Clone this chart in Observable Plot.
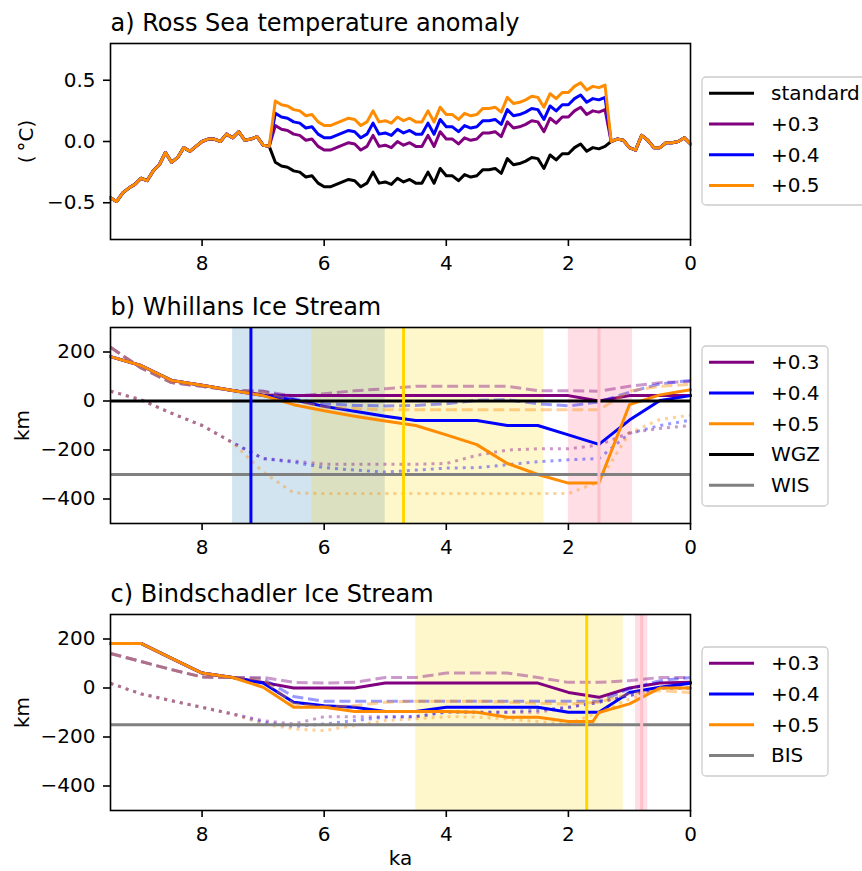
<!DOCTYPE html>
<html><head><meta charset="utf-8">
<script src="https://cdn.jsdelivr.net/npm/d3@7"></script>
<script src="https://cdn.jsdelivr.net/npm/@observablehq/plot@0.6"></script>
<style>
html,body{margin:0;padding:0;background:#fff;overflow:hidden;}
#fig{position:relative;width:862px;height:871px;overflow:hidden;background:#fff;font-family:"DejaVu Sans",sans-serif;}
</style></head><body><div id="fig"></div>
<script>
// ---------------- DATA ----------------
// a) Ross Sea temperature anomaly (°C), 0.1 ka steps
const kaTemp = [9.5,9.4,9.3,9.2,9.1,9.0,8.9,8.8,8.7,8.6,8.5,8.4,8.3,8.2,8.1,8.0,7.9,7.8,7.7,7.6,
  7.5,7.4,7.3,7.2,7.1,7.0,6.9,6.8,6.7,6.6,6.5,6.4,6.3,6.2,6.1,6.0,5.9,5.8,5.7,5.6,
  5.5,5.4,5.3,5.2,5.1,5.0,4.9,4.8,4.7,4.6,4.5,4.4,4.3,4.2,4.1,4.0,3.9,3.8,3.7,3.6,
  3.5,3.4,3.3,3.2,3.1,3.0,2.9,2.8,2.7,2.6,2.5,2.4,2.3,2.2,2.1,2.0,1.9,1.8,1.7,1.6,
  1.5,1.4,1.3,1.2,1.1,1.0,0.9,0.8,0.7,0.6,0.5,0.4,0.3,0.2,0.1,0.0];
const standardAnomaly = [-0.46,-0.49,-0.42,-0.38,-0.35,-0.30,-0.32,-0.24,-0.19,-0.09,
  -0.17,-0.13,-0.05,-0.08,-0.04,0.00,0.02,0.02,0.00,0.06,
  0.03,0.08,0.01,0.02,0.04,-0.03,-0.04,-0.17,-0.20,-0.21,
  -0.24,-0.25,-0.29,-0.28,-0.34,-0.37,-0.37,-0.35,-0.33,-0.31,
  -0.32,-0.37,-0.34,-0.25,-0.34,-0.33,-0.35,-0.30,-0.33,-0.31,
  -0.34,-0.34,-0.25,-0.34,-0.22,-0.28,-0.28,-0.32,-0.27,-0.29,
  -0.28,-0.23,-0.23,-0.22,-0.26,-0.14,-0.19,-0.18,-0.16,-0.13,
  -0.14,-0.22,-0.11,-0.15,-0.10,-0.10,-0.05,-0.02,-0.08,-0.05,
  -0.06,-0.04,0.00,0.02,0.01,-0.05,-0.07,0.05,0.01,-0.05,
  -0.05,-0.01,-0.01,0.00,0.03,-0.02];
// warming window values (6.8 ka .. 1.4 ka); elsewhere runs equal the standard
const warmStartKa = 6.8;
const warm03 = [0.13,0.10,0.09,0.06,0.05,0.01,0.02,-0.04,-0.07,-0.07,-0.05,-0.03,-0.01,-0.02,-0.07,-0.04,0.05,-0.04,-0.03,-0.05,
  0.00,-0.03,-0.01,-0.04,-0.04,0.05,-0.04,0.08,0.02,0.02,-0.02,0.03,0.01,0.02,0.07,0.07,0.08,0.04,0.16,0.11,
  0.12,0.14,0.17,0.16,0.08,0.19,0.15,0.20,0.20,0.25,0.28,0.22,0.25,0.24,0.26];
const warm04 = [0.23,0.20,0.19,0.16,0.15,0.11,0.12,0.06,0.03,0.03,0.05,0.07,0.09,0.08,0.03,0.06,0.15,0.06,0.07,0.05,
  0.10,0.07,0.09,0.06,0.06,0.15,0.06,0.18,0.12,0.12,0.08,0.13,0.11,0.12,0.17,0.17,0.18,0.14,0.26,0.21,
  0.22,0.24,0.27,0.26,0.18,0.29,0.25,0.30,0.30,0.35,0.38,0.32,0.35,0.34,0.36];
const warm05 = [0.33,0.30,0.29,0.26,0.25,0.21,0.22,0.16,0.13,0.13,0.15,0.17,0.19,0.18,0.13,0.16,0.25,0.16,0.17,0.15,
  0.20,0.17,0.19,0.16,0.16,0.25,0.16,0.28,0.22,0.22,0.18,0.23,0.21,0.22,0.27,0.27,0.28,0.24,0.36,0.31,
  0.32,0.34,0.37,0.36,0.28,0.39,0.35,0.40,0.40,0.45,0.48,0.42,0.45,0.44,0.46];

// b) Whillans Ice Stream grounding line position (km), 0.5 ka steps
const kaGL = [9.5,9.0,8.5,8.0,7.5,7.0,6.5,6.0,5.5,5.0,4.5,4.0,3.5,3.0,2.5,2.0,1.5,1.0,0.5,0.0];
const wisSolid03 = [181,145,84,64,43,25,22,22,22,22,22,22,22,22,22,22,0,22,22,22];
const wisSolid04 = [181,145,84,64,43,22,5,-22,-42,-62,-80,-80,-80,-100,-100,-138,-177,-78,2,22];
const wisSolid05 = [181,145,84,64,43,22,-15,-40,-62,-82,-100,-138,-178,-255,-300,-335,-335,-15,25,46];
const wisDash03 = [219,135,75,60,43,40,20,30,42,50,60,60,60,60,42,42,40,60,75,80];
const wisDash04 = [219,135,75,60,43,40,8,-11,-18,-20,-18,-11,3,5,-11,-20,-4,36,70,84];
const wisDash05 = [219,135,75,60,43,38,0,-24,-31,-36,-36,-36,-36,-36,-36,-36,-36,40,60,68];
const wisDot03 = [40,5,-50,-100,-170,-235,-245,-258,-258,-258,-258,-255,-222,-200,-195,-195,-180,-130,-112,-100];
const wisDot04 = [40,5,-50,-100,-170,-235,-250,-272,-282,-290,-282,-274,-272,-260,-248,-240,-235,-132,-100,-78];
const wisDot05 = [40,5,-50,-100,-170,-290,-375,-378,-378,-378,-378,-378,-378,-378,-378,-378,-330,-130,-75,-58];
const wisSpanKey = ["blue","gold","pink"];
const wisSpanFrom = [7.5,6.2,2.0];
const wisSpanTo = [5.0,2.4,0.95];
const wisLineKey = ["blue","gold","pink"];
const wisLineKa = [7.2,4.7,1.5];
const wgzKm = 0;
const wisKm = -300;

// c) Bindschadler Ice Stream (km)
const bisSolid03 = [182,182,121,61,43,23,0,0,0,20,20,20,20,20,20,-18,-38,0,20,23];
const bisSolid04 = [182,182,121,61,43,20,-58,-72,-79,-96,-96,-79,-79,-79,-79,-99,-99,-18,3,19];
const kaBis05 = [9.5,9.0,8.5,8.0,7.5,7.0,6.5,6.0,5.5,5.0,4.5,4.0,3.5,3.0,2.5,2.0,1.6,1.5,1.0,0.5,0.0];
const bisSolid05 = [182,182,121,61,43,3,-79,-79,-96,-96,-96,-96,-99,-119,-119,-137,-137,-100,-65,0,0];
const bisDash03 = [141,108,75,45,43,43,23,20,23,43,43,61,61,61,43,23,23,30,43,43];
const bisDash04 = [141,108,75,45,43,37,-35,-54,-54,-54,-54,-54,-54,-54,-54,-54,-54,-4,30,43];
const bisDash05 = [141,108,75,45,43,35,-65,-78,-72,-58,-54,-54,-54,-58,-62,-65,-58,-24,-11,-18];
const bisDot03 = [19,-24,-52,-79,-106,-133,-147,-117,-117,-117,-117,-96,-99,-99,-99,-79,-58,-31,0,0];
const bisDot04 = [19,-24,-52,-79,-106,-140,-157,-147,-133,-119,-117,-99,-99,-99,-90,-79,-58,-31,0,0];
const bisDot05 = [19,-24,-52,-79,-106,-147,-167,-174,-153,-133,-126,-117,-119,-126,-137,-147,-99,-45,0,0];
const bisSpanKey = ["gold","pink"];
const bisSpanFrom = [4.5,0.9];
const bisSpanTo = [1.1,0.7];
const bisLineKey = ["gold","pink"];
const bisLineKa = [1.7,0.8];
const bisKm = -150;

const xTicks = [8,6,4,2,0];
const tempTicks = [-0.5,0,0.5];
const kmTicks = [-400,-200,0,200];

// ---------------- STYLE ----------------
const C = {standard:"#000000", p03:"#800080", p04:"#0000ff", p05:"#ff8c00", wgz:"#000000", gray:"#808080"};
const spanFill = {blue:"#1f77b4", gold:"#ffd700", pink:"#ffc0cb"};
const spanOpacity = {blue:0.2, gold:0.2, pink:0.5};
const vlineColor = {blue:"#0000ff", gold:"#ffd700", pink:"#ffc0cb"};
const LW = 3, DASH = "11,4.8", DOT = "3,5", ALPHA = 0.4;
const FONT = '"DejaVu Sans", sans-serif';

const fig = document.getElementById("fig");
const rowsOf = (ka, vals) => ka.map((k, i) => ({ka: k, v: vals[i]}));
const i0 = kaTemp.indexOf(warmStartKa);
const withWarm = (w) => standardAnomaly.map((v, i) => (i >= i0 && i < i0 + w.length) ? w[i - i0] : v);

const axes = (yTicks, fmt) => [
  Plot.axisX({ticks: xTicks, tickSize: 7, tickPadding: 9, strokeWidth: 1.6, fontSize: 20, label: null, tickFormat: d3.format("d")}),
  Plot.axisY({ticks: yTicks, tickSize: 7, tickPadding: 8, strokeWidth: 1.6, fontSize: 20, label: null, tickFormat: fmt})
];
const title = (t) => Plot.text([t], {text: d => d, frameAnchor: "top-left", textAnchor: "start", lineAnchor: "middle", dy: -19.7, fontSize: 24});
const yLabel = (t, dx) => Plot.text([t], {text: d => d, frameAnchor: "left", rotate: -90, textAnchor: "middle", lineAnchor: "middle", dx, fontSize: 20});
const solid = (rows, c) => Plot.line(rows, {x: "ka", y: "v", stroke: c, strokeWidth: LW});
const styled = (rows, c, dash) => Plot.line(rows, {x: "ka", y: "v", stroke: c, strokeWidth: LW, strokeOpacity: ALPHA, strokeDasharray: dash, strokeLinecap: "butt"});

function panel(top, height, mt, mb, yDomain, marks) {
  const svg = Plot.plot({
    width: 862, height, marginLeft: 110, marginRight: 172, marginTop: mt, marginBottom: mb,
    style: {fontFamily: FONT, fontSize: "20px", background: "white", color: "black", overflow: "visible"},
    x: {domain: [9.5, 0]},
    y: {domain: yDomain},
    marks
  });
  svg.style.position = "absolute"; svg.style.left = "0px"; svg.style.top = top + "px";
  fig.appendChild(svg);
}

function legend(left, top, w, h, entries) {
  const svg = d3.create("svg").attr("width", w + 4).attr("height", h + 4)
    .style("position", "absolute").style("left", (left - 2) + "px").style("top", (top - 2) + "px");
  svg.append("rect").attr("x", 2).attr("y", 2).attr("width", w).attr("height", h).attr("rx", 4)
    .attr("fill", "white").attr("fill-opacity", 0.8).attr("stroke", "#cccccc").attr("stroke-width", 1.3);
  entries.forEach((e, i) => {
    const y = 2 + 16.2 + i * 30.75;
    svg.append("line").attr("x1", 9).attr("x2", 54).attr("y1", y).attr("y2", y)
      .attr("stroke", e.color).attr("stroke-width", LW);
    svg.append("text").attr("x", 71).attr("y", y).attr("dy", "0.35em")
      .attr("font-family", FONT).attr("font-size", 20).attr("fill", "black").text(e.label);
  });
  fig.appendChild(svg.node());
}

// ---------------- PANEL A ----------------
const fmt1 = d3.format(".1f");
panel(0, 290, 43, 51, [-0.8, 0.8], [
  solid(rowsOf(kaTemp, standardAnomaly), C.standard),
  solid(rowsOf(kaTemp, withWarm(warm03)), C.p03),
  solid(rowsOf(kaTemp, withWarm(warm04)), C.p04),
  solid(rowsOf(kaTemp, withWarm(warm05)), C.p05),
  ...axes(tempTicks, fmt1),
  Plot.frame({stroke: "black", strokeWidth: 1.6}),
  title("a) Ross Sea temperature anomaly"),
  yLabel("(\u2009\u00B0C)", -84)
]);
legend(702, 77, 180, 128, [
  {label: "standard", color: C.standard},
  {label: "+0.3", color: C.p03},
  {label: "+0.4", color: C.p04},
  {label: "+0.5", color: C.p05}
]);

// ---------------- PANEL B ----------------
const fmtKm = d3.format("d");
const wisSpans = wisSpanKey.map((k, i) => ({k, a: wisSpanFrom[i], b: wisSpanTo[i]}));
const wisLines = wisLineKey.map((k, i) => ({k, ka: wisLineKa[i]}));
panel(290, 290, 37, 57, [-500, 300], [
  ...wisSpans.map(s => Plot.rect([s], {x1: "a", x2: "b", fill: spanFill[s.k], fillOpacity: spanOpacity[s.k]})),
  solid(rowsOf(kaGL, wisSolid03), C.p03),
  styled(rowsOf(kaGL, wisDash03), C.p03, DASH),
  styled(rowsOf(kaGL, wisDot03), C.p03, DOT),
  solid(rowsOf(kaGL, wisSolid04), C.p04),
  styled(rowsOf(kaGL, wisDash04), C.p04, DASH),
  styled(rowsOf(kaGL, wisDot04), C.p04, DOT),
  solid(rowsOf(kaGL, wisSolid05), C.p05),
  styled(rowsOf(kaGL, wisDash05), C.p05, DASH),
  styled(rowsOf(kaGL, wisDot05), C.p05, DOT),
  Plot.ruleY([wgzKm], {stroke: C.wgz, strokeWidth: LW}),
  Plot.ruleY([wisKm], {stroke: C.gray, strokeWidth: LW}),
  ...wisLines.map(l => Plot.ruleX([l], {x: "ka", stroke: vlineColor[l.k], strokeWidth: LW})),
  ...axes(kmTicks, fmtKm),
  Plot.frame({stroke: "black", strokeWidth: 1.6}),
  title("b) Whillans Ice Stream"),
  yLabel("km", -88.4)
]);
legend(702, 346, 126, 160, [
  {label: "+0.3", color: C.p03},
  {label: "+0.4", color: C.p04},
  {label: "+0.5", color: C.p05},
  {label: "WGZ", color: C.wgz},
  {label: "WIS", color: C.gray}
]);

// ---------------- PANEL C ----------------
const bisSpans = bisSpanKey.map((k, i) => ({k, a: bisSpanFrom[i], b: bisSpanTo[i]}));
const bisLines = bisLineKey.map((k, i) => ({k, ka: bisLineKa[i]}));
panel(580, 291, 34, 61, [-500, 300], [
  ...bisSpans.map(s => Plot.rect([s], {x1: "a", x2: "b", fill: spanFill[s.k], fillOpacity: spanOpacity[s.k]})),
  solid(rowsOf(kaGL, bisSolid03), C.p03),
  styled(rowsOf(kaGL, bisDash03), C.p03, DASH),
  styled(rowsOf(kaGL, bisDot03), C.p03, DOT),
  solid(rowsOf(kaGL, bisSolid04), C.p04),
  styled(rowsOf(kaGL, bisDash04), C.p04, DASH),
  styled(rowsOf(kaGL, bisDot04), C.p04, DOT),
  solid(rowsOf(kaBis05, bisSolid05), C.p05),
  styled(rowsOf(kaGL, bisDash05), C.p05, DASH),
  styled(rowsOf(kaGL, bisDot05), C.p05, DOT),
  Plot.ruleY([bisKm], {stroke: C.gray, strokeWidth: LW}),
  ...bisLines.map(l => Plot.ruleX([l], {x: "ka", stroke: vlineColor[l.k], strokeWidth: LW})),
  ...axes(kmTicks, fmtKm),
  Plot.frame({stroke: "black", strokeWidth: 1.6}),
  title("c) Bindschadler Ice Stream"),
  yLabel("km", -88.4),
  Plot.text(["ka"], {text: d => d, frameAnchor: "bottom", lineAnchor: "middle", dy: 47.6, fontSize: 20})
]);
legend(702, 647, 126, 129, [
  {label: "+0.3", color: C.p03},
  {label: "+0.4", color: C.p04},
  {label: "+0.5", color: C.p05},
  {label: "BIS", color: C.gray}
]);
</script></body></html>
